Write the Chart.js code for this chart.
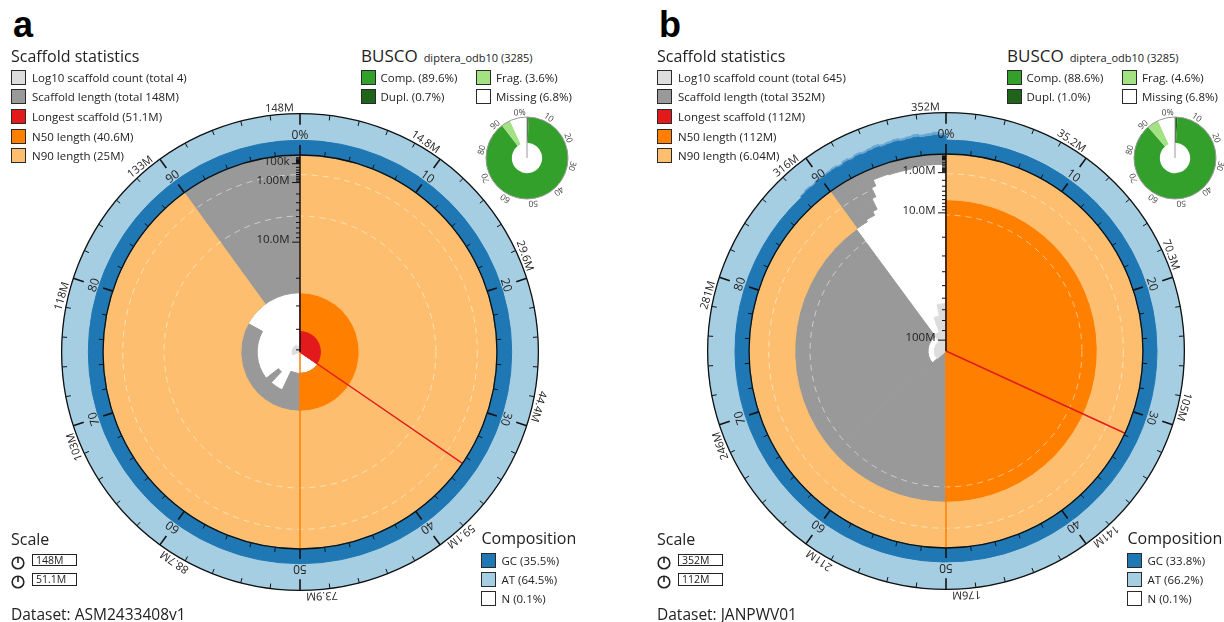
<!DOCTYPE html>
<html>
<head>
<meta charset="utf-8">
<title>snail plots</title>
<script src="https://cdn.jsdelivr.net/npm/chart.js@4.4.1/dist/chart.umd.min.js"></script>
<style>
body{margin:0;background:#fff}
#page{position:relative;width:1224px;height:622px;overflow:hidden;font-family:"Open Sans",sans-serif;color:#222}
#page canvas{position:absolute}
.t{position:absolute;white-space:nowrap}
.sq{position:absolute;box-sizing:border-box;border:1.5px solid #2a2a2a}
</style>
</head>
<body>
<div id="page"></div>
<script>
// ---- panel a : ASM2433408v1 ----
let aDataset="ASM2433408v1"
let aTotal=147.845          // Mb
let aCount=4
let aLongest=51.1
let aN50=40.6
let aN90=25
// scaffold length along the assembly: [cumulative % at end of step, length in Mb]
let aLengths=[[34.5,51.1],[57,40.6],[62,31.7],[64.5,38],[83,31.3],[100,25]]
// log10 scaffold count spiral, fraction of the plot radius
let aCountSpiral=[[69,0],[92,0.04],[100,0.03]]
let aCountLines=[0.69,0.9]
// GC % along the assembly (and upper spread)
let aGC=[[100,35.5]]
let aGCSpread=[[100,0]]
let aComposition=[35.5,64.5,0.1]      // GC, AT, N
let aLineage="diptera_odb10 (3285)"
let aBusco=[89.6,0.7,3.6,6.8]          // comp, dupl, frag, missing
let aAxisLabels=[0.1,1,10]             // Mb

// ---- panel b : JANPWV01 ----
let bDataset="JANPWV01"
let bTotal=351.6
let bCount=645
let bLongest=112
let bN50=112
let bN90=6.04
let bLengths=[[31.8,112],[63.6,111],[89.9,92.5],[91.3,6.04],[92.3,5.5],[92.8,4.5],[93.2,2.2],[93.6,0.9],[95,0.35],[97,0.4],[100,0.3]]
let bCountSpiral=[[63.6,0],[89.9,0.06],[94.5,0.1],[97,0.18],[100,0.24]]
let bCountLines=[0.69,0.9]
let bGC=[[88,33.8],[88.5,35.5],[89,37],[89.5,36],[90,38.5],[90.5,37.5],[91,39],[91.5,40],[92,38],[92.5,41],[93,39.5],[93.5,42],[94,40],[94.5,41.5],[95,43],[95.5,41],[96,42.5],[96.5,44],[97,42],[97.5,43.5],[98,45],[98.5,43],[99,44],[99.5,46],[100,44]]
let bGCSpread=[[88,0],[88.5,38],[89,40.5],[89.5,39],[90,42],[90.5,41],[91,43],[91.5,44.5],[92,42],[92.5,46],[93,44],[93.5,47],[94,45],[94.5,47],[95,49],[95.5,46],[96,48],[96.5,50],[97,47.5],[97.5,49.5],[98,52],[98.5,49],[99,50.5],[99.5,53],[100,50]]
let bComposition=[33.8,66.2,0.1]
let bLineage="diptera_odb10 (3285)"
let bBusco=[88.6,1.0,4.6,6.8]
let bAxisLabels=[1,10,100]

const ringWidth=0.21
const plotRadius=197
const half=270

function mb(v){return (+v.toPrecision(3))+"M"}
function axisLabel(v){return v<1?Math.round(v*1000)+"k":v.toPrecision(3)+"M"}

function steps(list){
let start=0
return list.map(s=>{let o={span:s[0]-start,val:s[1]};start=s[0];return o})
}

function layer(list,innerOf,outerOf,color){
let segs=steps(list)
let inner=segs.map(s=>s.val===null?0:innerOf(s.val))
let outer=segs.map(s=>s.val===null?0:outerOf(s.val))
return {
data:outer,
inner:inner,
backgroundColor:color,
borderColor:color,
borderWidth:c=>outer[c.dataIndex]>inner[c.dataIndex]?1:0,
angle:c=>segs[c.dataIndex].span*3.6
}
}

// polar arcs that start at an inner value instead of the centre
const innerRadius={
id:"innerRadius",
afterDatasetsUpdate(chart){
let s=chart.scales.r
chart.data.datasets.forEach((ds,i)=>{
chart.getDatasetMeta(i).data.forEach((arc,j)=>{
arc.innerRadius=s.getDistanceFromCenterForValue(ds.inner[j])
})
})
}
}

function arcText(ctx,cx,cy,r,pct,str,align){
let a=pct/50*Math.PI
ctx.save()
ctx.translate(cx+r*Math.sin(a),cy-r*Math.cos(a))
ctx.rotate(a)
ctx.textAlign=align
ctx.fillText(str,0,0)
ctx.restore()
}

function snailDeco(p){
return {
id:"snailDeco",
afterDatasetsDraw(chart){
let s=chart.scales.r,ctx=chart.ctx
let cx=s.xCenter,cy=s.yCenter
let dist=v=>s.getDistanceFromCenterForValue(v)
let R=dist(1),Ro=dist(1+ringWidth)
let at=(pct,r)=>{let a=pct/50*Math.PI;return [cx+r*Math.sin(a),cy-r*Math.cos(a)]}
let ray=(pct,r0,r1,color,w)=>{
let a=at(pct,r0),b=at(pct,r1)
ctx.strokeStyle=color;ctx.lineWidth=w
ctx.beginPath();ctx.moveTo(a[0],a[1]);ctx.lineTo(b[0],b[1]);ctx.stroke()
}
ctx.save()
ctx.setLineDash([6,5])
ctx.strokeStyle="rgba(255,255,255,0.5)";ctx.lineWidth=1
p.countLines.forEach(v=>{ctx.beginPath();ctx.arc(cx,cy,dist(v),0,Math.PI*2);ctx.stroke()})
ctx.setLineDash([])
ray(50,0,R,"#ff7f00",1.5)
ray(p.longest/p.total*100,0,R,"#e31a1c",1.4)
ctx.strokeStyle="#111";ctx.lineWidth=1.3
ctx.beginPath();ctx.arc(cx,cy,R,0,Math.PI*2);ctx.stroke()
ctx.beginPath();ctx.arc(cx,cy,Ro,0,Math.PI*2);ctx.stroke()
for(let k=0;k<50;k++){
let major=k%5==0
ray(k*2,R,R+(major?10:4.5),"#111",major?1.6:1)
ray(k*2,Ro-(major?11:5),Ro,"#111",major?1.6:1)
}
// length axis
ray(0,0,R,"#111",1.5)
ctx.fillStyle="#222"
ctx.font="11.5px 'Open Sans'"
ctx.textAlign="right";ctx.textBaseline="alphabetic"
ctx.strokeStyle="#111";ctx.lineWidth=1
for(let e=-2;e<=2;e++){
for(let m=1;m<10;m++){
let L=m*Math.pow(10,e)
if(L>p.longest) continue
let r=dist(1-Math.sqrt(L/p.longest))
let lab=p.axisLabels.some(x=>Math.abs(x-L)<1e-9)
let len=lab?8:4
ctx.beginPath();ctx.moveTo(cx-len,cy-r);ctx.lineTo(cx,cy-r);ctx.stroke()
if(lab) ctx.fillText(axisLabel(L),cx-10.5,cy-r+1)
}
}
// percent and length labels
ctx.font="12px 'Open Sans'"
for(let k=0;k<10;k++) arcText(ctx,cx,cy,R+16,k*10,k==0?"0%":String(k*10),"center")
ctx.font="11px 'Open Sans'"
for(let k=0;k<10;k++){
let v=k==0?p.total:p.total*k/10
arcText(ctx,cx,cy,Ro+2.5,k*10-0.4,v.toPrecision(3)+"M","right")
}
ctx.restore()
}
}
}

const buscoDeco={
id:"buscoDeco",
afterDatasetsDraw(chart){
let arc=chart.getDatasetMeta(0).data[0],ctx=chart.ctx
let cx=arc.x,cy=arc.y,ro=arc.outerRadius
ctx.save()
ctx.strokeStyle="#999";ctx.lineWidth=1
ctx.beginPath();ctx.arc(cx,cy,ro,0,Math.PI*2);ctx.stroke()
ctx.beginPath();ctx.moveTo(cx,cy);ctx.lineTo(cx,cy-ro);ctx.stroke()
ctx.fillStyle="#444";ctx.font="8.5px 'Open Sans'";ctx.textBaseline="alphabetic"
for(let k=0;k<10;k++) arcText(ctx,cx,cy,ro+2,k*10-0.5,k==0?"0%":String(k*10),"right")
ctx.restore()
}
}

function drawPanel(p){
let page=document.getElementById("page")
let ox=p.x
function text(x,y,str,size,css){
let d=document.createElement("div")
let lh=Math.round(size*1.3)
d.className="t"
d.style.cssText="left:"+(ox+x)+"px;top:"+(y-lh/2)+"px;font-size:"+size+"px;line-height:"+lh+"px;"+(css||"")
d.textContent=str
page.appendChild(d)
return d
}
function square(x,y,color,size){
size=size||15
let d=document.createElement("div")
d.className="sq"
d.style.cssText="left:"+(ox+x)+"px;top:"+(y-size/2)+"px;width:"+size+"px;height:"+size+"px;background:"+color
page.appendChild(d)
}

// main snail plot
let c=document.createElement("canvas")
c.width=half*2;c.height=half*2
c.style.left=(p.cx-half)+"px";c.style.top=(p.cy-half)+"px"
page.appendChild(c)
let v=L=>1-Math.sqrt(L/p.longest)
let grey=layer(p.lengths,L=>v(L),()=>1,"#999999")
let count=layer(p.countSpiral,()=>0,x=>x,"#dddddd")
let red=layer([[p.longest/p.total*100,1],[100,null]],()=>0,()=>1,"#e31a1c")
let orange=layer([[50,1],[100,null]],()=>v(p.n50),()=>1,"#ff7f00")
let pale=layer([[90,1],[100,null]],()=>v(p.n90),()=>1,"#fdbf6f")
let at=layer([[100,1]],()=>1,()=>1+ringWidth,"#a6cee3")
let spread=layer(p.gcSpread,()=>1,g=>g>0?1+ringWidth*g/100:1,"#6aa6d3")
let gc=layer(p.gc,()=>1,g=>1+ringWidth*g/100,"#1f78b4")
new Chart(c,{
type:"polarArea",
data:{labels:[],datasets:[gc,spread,at,pale,orange,red,count,grey]},
options:{
responsive:false,animation:false,events:[],
plugins:{legend:{display:false},tooltip:{enabled:false}},
scales:{r:{min:0,max:half/plotRadius,display:false}}
},
plugins:[innerRadius,snailDeco(p)]
})

// busco donut
let bc=document.createElement("canvas")
bc.width=110;bc.height=110
bc.style.left=(p.bx-55)+"px";bc.style.top=(p.by-55)+"px"
page.appendChild(bc)
new Chart(bc,{
type:"doughnut",
data:{labels:["Dupl.","Comp.","Frag.","Missing"],
datasets:[{data:[p.busco[1],p.busco[0]-p.busco[1],p.busco[2],p.busco[3]],
backgroundColor:["#20641c","#33a02c","#a3e283","#ffffff"],borderWidth:0}]},
options:{responsive:false,animation:false,events:[],cutout:"37%",layout:{padding:14},
plugins:{legend:{display:false},tooltip:{enabled:false}}},
plugins:[buscoDeco]
})

// text and legends
text(13,24.5,p.letter,36,"font-family:'Liberation Sans',Arial,sans-serif;font-weight:bold;color:#000")
text(11,56,"Scaffold statistics",16)
let rows=["Log10 scaffold count (total "+p.count+")","Scaffold length (total "+mb(p.total)+")","Longest scaffold ("+mb(p.longest)+")","N50 length ("+mb(p.n50)+")","N90 length ("+mb(p.n90)+")"]
let rowColors=["#dddddd","#999999","#e31a1c","#ff7f00","#fdbf6f"]
rows.forEach((r,i)=>{square(11,77.2+i*19.6,rowColors[i]);text(32,77.2+i*19.6,r,11.5)})

let h=text(361,56,"BUSCO",17)
let sp=document.createElement("span")
sp.style.cssText="font-size:11px;margin-left:6px"
sp.textContent=p.lineage
h.appendChild(sp)
square(360.5,77.8,"#33a02c");text(380.5,77.8,"Comp. ("+p.busco[0].toFixed(1)+"%)",11.5)
square(360.5,96.8,"#20641c");text(380.5,96.8,"Dupl. ("+p.busco[1].toFixed(1)+"%)",11.5)
square(476,77.8,"#a3e283");text(496,77.8,"Frag. ("+p.busco[2].toFixed(1)+"%)",11.5)
square(476,96.8,"#ffffff");text(496,96.8,"Missing ("+p.busco[3].toFixed(1)+"%)",11.5)

text(11,539,"Scale",16)
;[[560,mb(p.total)],[579.3,mb(p.longest)]].forEach(r=>{
let ic=document.createElement("div")
ic.style.cssText="position:absolute;left:"+(ox+11)+"px;top:"+(r[0]-7)+"px;width:14px;height:14px"
ic.innerHTML='<svg width="14" height="14"><circle cx="7" cy="7" r="5.8" fill="none" stroke="#222" stroke-width="1.6"/><line x1="7" y1="1" x2="7" y2="7" stroke="#222" stroke-width="1.6"/></svg>'
page.appendChild(ic)
let b=text(32,r[0],r[1],10.5,"box-sizing:border-box;border:1.3px solid #222;width:45px;height:12.5px;line-height:10px;padding-left:3px")
b.style.top=(r[0]-6.2)+"px"
})
text(11,614,"Dataset: "+p.dataset,15.5)

text(481.5,538.5,"Composition",16)
square(481,560.3,"#1f78b4");text(501.5,560.3,"GC ("+p.comp[0]+"%)",11.5)
square(481,579.6,"#a6cee3");text(501.5,579.6,"AT ("+p.comp[1]+"%)",11.5)
square(481,598.9,"#ffffff");text(501.5,598.9,"N ("+p.comp[2]+"%)",11.5)
}

drawPanel({x:0,letter:"a",cx:300,cy:352,bx:527,by:158,dataset:aDataset,total:aTotal,count:aCount,longest:aLongest,n50:aN50,n90:aN90,
lengths:aLengths,countSpiral:aCountSpiral,countLines:aCountLines,gc:aGC,gcSpread:aGCSpread,comp:aComposition,lineage:aLineage,busco:aBusco,axisLabels:aAxisLabels})
drawPanel({x:646,letter:"b",cx:946,cy:351,bx:1175,by:158,dataset:bDataset,total:bTotal,count:bCount,longest:bLongest,n50:bN50,n90:bN90,
lengths:bLengths,countSpiral:bCountSpiral,countLines:bCountLines,gc:bGC,gcSpread:bGCSpread,comp:bComposition,lineage:bLineage,busco:bBusco,axisLabels:bAxisLabels})
</script>
</body>
</html>
